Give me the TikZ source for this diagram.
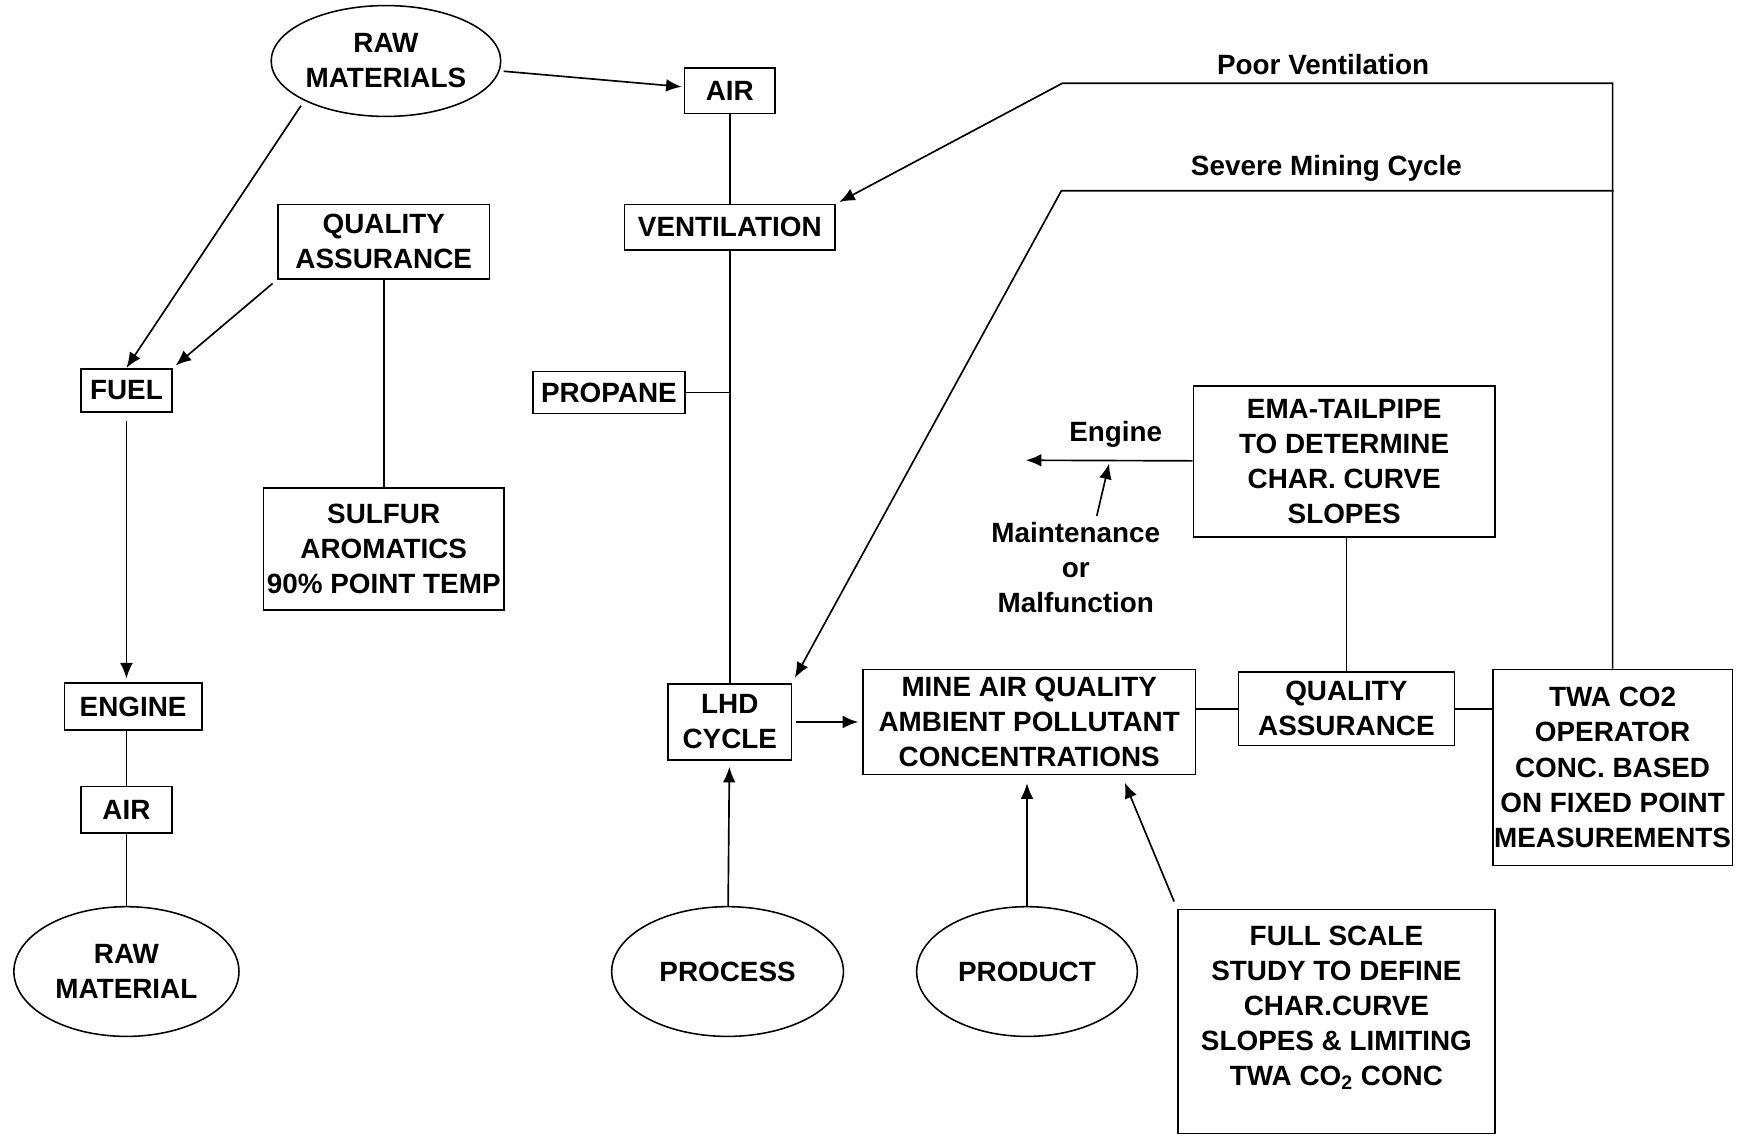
\documentclass[tikz,border=0pt]{standalone}
\usepackage{fontspec}
\setmainfont{Liberation Sans}
\usepackage{tikz}
\usetikzlibrary{arrows.meta,positioning,shapes,calc}
\tikzset{
  every node/.style={
    font=\fontsize{14.3}{18}\selectfont\bfseries
  },
  plain box/.style={
    draw,
    rectangle,
    align=center,
    inner sep=0pt,
    line width=0.8pt
  },
  source/.style={
    draw,
    shape=ellipse,
    align=center,
    inner sep=0pt,
    line width=0.8pt
  },
  note/.style={
    align=center,
    inner sep=3pt
  }
}

\begin{document}
\begin{tikzpicture}[x=0.02cm,y=-0.02cm,line width=0.85pt,>={Latex[length=2.8mm,width=2.3mm]}]
    \useasboundingbox (0,0) rectangle (1568,1024);
    \path{
      node[source,minimum width=4.14cm,minimum height=2cm] (raw_mats) at (348,55) {RAW\\MATERIALS}
      node[plain box,minimum width=1.64cm,minimum height=0.82cm] (air_t) at (658,82) {AIR}
      node[plain box,minimum width=3.8cm,minimum height=0.82cm] (vent) at (658,205) {VENTILATION}
      node[plain box,minimum width=3.82cm,minimum height=1.34cm] (qa_l) at (346,218) {QUALITY\\ASSURANCE}
      node[plain box,minimum width=1.64cm,minimum height=0.78cm] (fuel) at (114,352) {FUEL}
      node[plain box,minimum width=2.74cm,minimum height=0.76cm] (propane) at (549,354) {PROPANE}
      node[plain box,minimum width=4.34cm,minimum height=2.2cm] (sulfur) at (346,495) {SULFUR\\AROMATICS\\90\%\ POINT TEMP}
      node[plain box,minimum width=2.48cm,minimum height=0.84cm] (engine) at (120,637) {ENGINE}
      node[plain box,minimum width=1.64cm,minimum height=0.84cm] (air_l) at (114,730) {AIR}
      node[source,minimum width=4.06cm,minimum height=2.34cm] (raw_mat) at (114,876) {RAW\\MATERIAL}
      node[plain box,minimum width=2.22cm,minimum height=1.38cm] (lhd) at (658,651) {LHD\\CYCLE}
      node[source,minimum width=4.18cm,minimum height=2.34cm] (process) at (656,876) {PROCESS}
      node[source,minimum width=3.98cm,minimum height=2.34cm] (product) at (926,876) {PRODUCT}
      node[plain box,minimum width=6cm,minimum height=1.9cm] (mine) at (928,651) {MINE AIR QUALITY\\AMBIENT POLLUTANT\\CONCENTRATIONS}
      node[plain box,minimum width=3.9cm,minimum height=1.32cm] (qa_r) at (1214,639) {QUALITY\\ASSURANCE}
      node[plain box,minimum width=5.44cm,minimum height=2.72cm] (ema) at (1212,416) {EMA-TAILPIPE\\TO DETERMINE\\CHAR. CURVE\\SLOPES}
      node[plain box,minimum width=4.32cm,minimum height=3.54cm] (twa) at (1454,692) {TWA CO2\\OPERATOR\\CONC. BASED\\ON FIXED POINT\\MEASUREMENTS}
      node[plain box,minimum width=5.72cm,minimum height=4.04cm] (full) at (1205,921) {FULL SCALE\\STUDY TO DEFINE\\CHAR.CURVE\\SLOPES \& LIMITING\\TWA CO\textsubscript{2} CONC\\[-2pt]\mbox{}}
      node[note] (lbl_pv) at (1193,58) {Poor Ventilation}
      node[note] (lbl_smc) at (1196,152) {Severe Mining Cycle}
      node[note] (lbl_eng) at (1006,392) {Engine}
      node[note] (lbl_maint) at (970,512) {Maintenance\\or\\Malfunction}
    };
    \coordinate (pv_bend) at (958,75);
    \coordinate (sm_join) at (1455,172);
    \coordinate (sm_bend) at (957,172);
    \coordinate (eng_tip) at (925,415);
    \coordinate (maint_tip) at (1000,418);

    % fuel side
    \draw[->,shorten <=3pt] (raw_mats.south west) -- (fuel.north);
    \draw[->,shorten <=3pt,shorten >=2pt] (qa_l.south west) -- (fuel.north east);
    \draw[->,shorten <=2pt,shorten >=1pt] (raw_mats) -- (air_t);
    \draw[->,shorten <=4pt,shorten >=2pt] (fuel) -- (fuel |- engine.north);
    \path[draw]{
      (qa_l) edge (sulfur)
      (air_l.north) edge (air_l.north |- engine.south)
      (air_l) edge (raw_mat)
      (air_t) edge (vent)
      (vent) edge (lhd)
      (propane.east) edge (propane.east -| vent.south)
      (qa_r.west) edge (qa_r.west -| mine.east)
      (qa_r.east) edge (qa_r.east -| twa.west)
      (qa_r.north) edge (qa_r.north |- ema.south)
    };

    % mine side
    \draw[->,shorten <=2pt,shorten >=2pt] (lhd.east) -- (lhd.east -| mine.west);
    \draw[->,shorten >=3pt] (process) -- (lhd);
    \draw[->,shorten >=4pt] (product.north) -- (product.north |- mine.south);
    \draw[->,shorten <=4pt,shorten >=4pt] (full.north west) -- (mine.-30);
    \draw[->] (ema) -- (eng_tip);
    \draw[->] (lbl_maint.68) -- (maint_tip);
    \draw[->,shorten >=2pt] (twa.north) |- (pv_bend) -- (vent.north east);
    \draw[->,shorten >=3pt] (sm_join) -- (sm_bend) -- (lhd.north east);
  \end{tikzpicture}
\end{document}
